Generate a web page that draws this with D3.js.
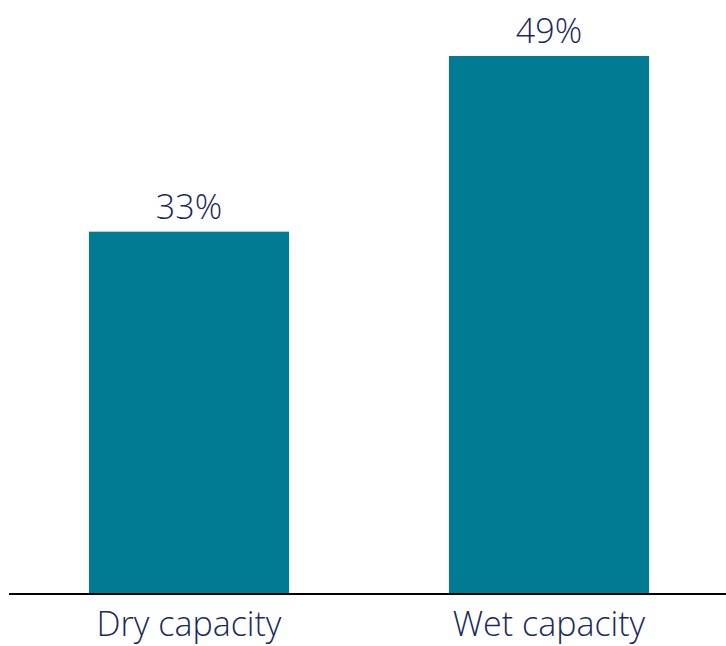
<!DOCTYPE html>
<html>
<head>
<meta charset="utf-8">
<script src="https://cdn.jsdelivr.net/npm/d3@7"></script>
<style>
  html, body { margin: 0; padding: 0; background: #fff; }
  svg { display: block; }
</style>
</head>
<body>
<svg id="chart" width="726" height="646"></svg>
<script>
const categories = ["Dry capacity", "Wet capacity"];
const values = [33, 49];
const valueLabels = ["33%", "49%"];

const svg = d3.select("#chart");
const baseY = 594;

const x = d3.scaleBand()
  .domain(categories)
  .range([9, 729])
  .paddingInner(0.444)
  .paddingOuter(0.222);

const y = d3.scaleLinear()
  .domain([0, 49])
  .range([baseY, 56]);

svg.selectAll("rect.bar")
  .data(values)
  .join("rect")
  .attr("class", "bar")
  .attr("x", (d, i) => x(categories[i]))
  .attr("width", x.bandwidth())
  .attr("y", d => y(d))
  .attr("height", d => baseY - y(d))
  .attr("fill", "#007B93");

svg.selectAll("text.val")
  .data(values)
  .join("text")
  .attr("class", "val")
  .attr("x", (d, i) => x(categories[i]) + x.bandwidth() / 2)
  .attr("y", d => y(d) - 13)
  .attr("text-anchor", "middle")
  .attr("font-family", "'Open Sans', sans-serif")
  .attr("font-weight", 300)
  .attr("font-size", 34)
  .attr("fill", "#1B2A5C")
  .text((d, i) => valueLabels[i]);

// axis line
const axis = d3.axisBottom(x).tickSize(0).tickPadding(0);
const g = svg.append("g").attr("transform", `translate(0,${baseY})`).call(axis);
g.select(".domain").remove();
g.append("line")
  .attr("x1", 9).attr("x2", 726)
  .attr("y1", 0).attr("y2", 0)
  .attr("stroke", "#000").attr("stroke-width", 2);
g.selectAll(".tick text")
  .attr("y", 42)
  .attr("dy", null)
  .attr("font-family", "'Open Sans', sans-serif")
  .attr("font-weight", 300)
  .attr("font-size", 34)
  .attr("fill", "#1B2A5C");
</script>
</body>
</html>
